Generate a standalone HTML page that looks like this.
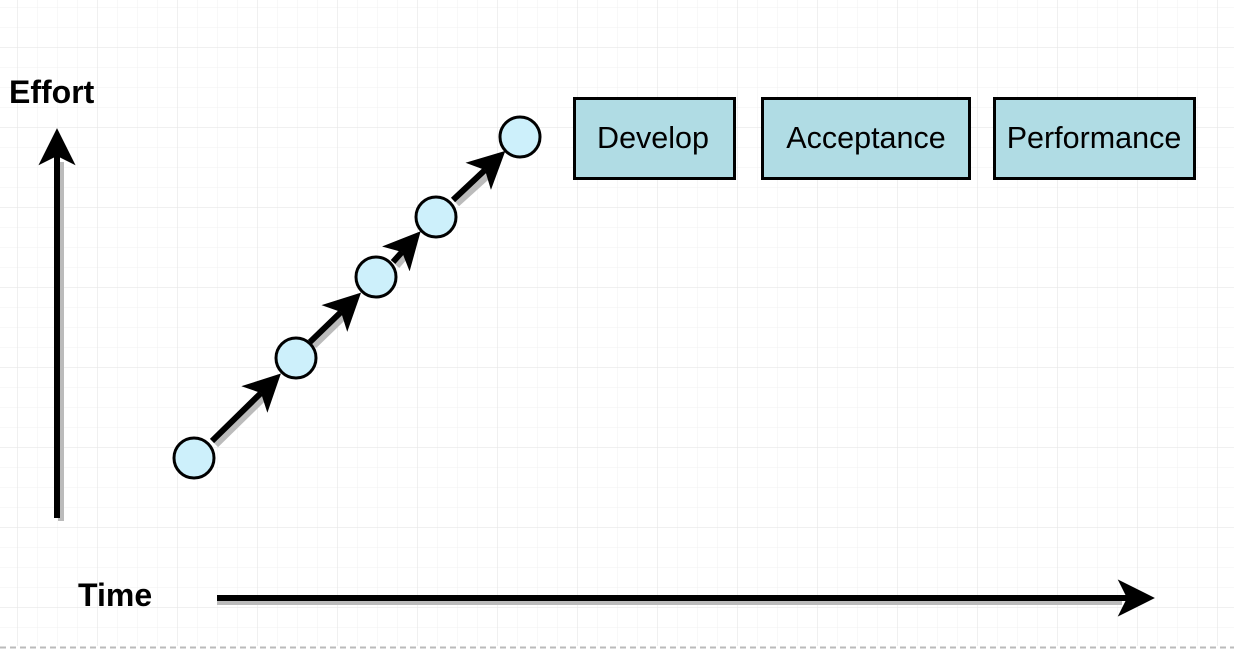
<!DOCTYPE html>
<html><head><meta charset="utf-8"><style>
html,body{margin:0;padding:0;background:#fff;}
body{width:1234px;height:650px;overflow:hidden;position:relative;font-family:"Liberation Sans",Arial,sans-serif;}
</style></head><body>
<svg width="1234" height="650" viewBox="0 0 1234 650" xmlns="http://www.w3.org/2000/svg" style="position:absolute;left:0;top:0">
<defs>
<pattern id="minor" x="17" y="7" width="20" height="20" patternUnits="userSpaceOnUse">
<path d="M0 0H20M0 0V20" stroke="#f0f0f0" stroke-width="1" fill="none"/>
</pattern>
<pattern id="major" x="17" y="47" width="80" height="80" patternUnits="userSpaceOnUse">
<path d="M0 0H80M0 0V80" stroke="#e6e6e6" stroke-width="1.2" fill="none"/>
</pattern>
<marker id="ah" viewBox="0 0 20 20" refX="5" refY="10" markerWidth="6.2" markerHeight="6.2" markerUnits="strokeWidth" orient="auto">
<path d="M0 0L20 10L0 20L5 10Z" fill="#000"/>
</marker>
</defs>
<rect width="1234" height="646" fill="url(#minor)"/>
<rect width="1234" height="646" fill="url(#major)"/>
<line x1="0" y1="647.5" x2="1234" y2="647.5" stroke="#bbb" stroke-width="2" stroke-dasharray="6,4"/>

<g stroke-width="6" fill="none">
<g stroke="#bbb">
<line x1="61" y1="521" x2="61" y2="162"/>
<line x1="217" y1="602" x2="1122" y2="602"/>
<line x1="216" y1="445" x2="264" y2="398"/>
<line x1="314" y1="346" x2="344" y2="317"/>
<line x1="397" y1="266" x2="405" y2="257"/>
<line x1="457" y1="204" x2="488" y2="176"/>
</g>
<g stroke="#000">
<line x1="57" y1="518" x2="57" y2="156" marker-end="url(#ah)"/>
<line x1="217" y1="598" x2="1127" y2="598" marker-end="url(#ah)"/>
<line x1="212" y1="441" x2="261" y2="393" marker-end="url(#ah)"/>
<line x1="310" y1="342" x2="341" y2="312" marker-end="url(#ah)"/>
<line x1="393" y1="262" x2="402" y2="252" marker-end="url(#ah)"/>
<line x1="453" y1="200" x2="485" y2="170" marker-end="url(#ah)"/>
</g>
</g>
<g fill="#cdf0fb" stroke="#000" stroke-width="3">
<circle cx="194" cy="458" r="20"/>
<circle cx="296" cy="358" r="20"/>
<circle cx="376" cy="277" r="20"/>
<circle cx="436" cy="217" r="20"/>
<circle cx="520" cy="137" r="20"/>
</g>
<g fill="#b0dce4" stroke="#000" stroke-width="3">
<rect x="574.5" y="98.5" width="160" height="80"/>
<rect x="762.5" y="98.5" width="207" height="80"/>
<rect x="994.5" y="98.5" width="200" height="80"/>
</g>
<g font-family="Liberation Sans, Arial, sans-serif" font-size="30.5" fill="#000" text-anchor="middle">
<text x="653" y="148">Develop</text>
<text x="866" y="148">Acceptance</text>
<text x="1094" y="148">Performance</text>
</g>
<g font-family="Liberation Sans, Arial, sans-serif" font-size="32" font-weight="bold" fill="#000">
<text x="9" y="103">Effort</text>
<text x="78" y="606">Time</text>
</g>
</svg>
</body></html>
